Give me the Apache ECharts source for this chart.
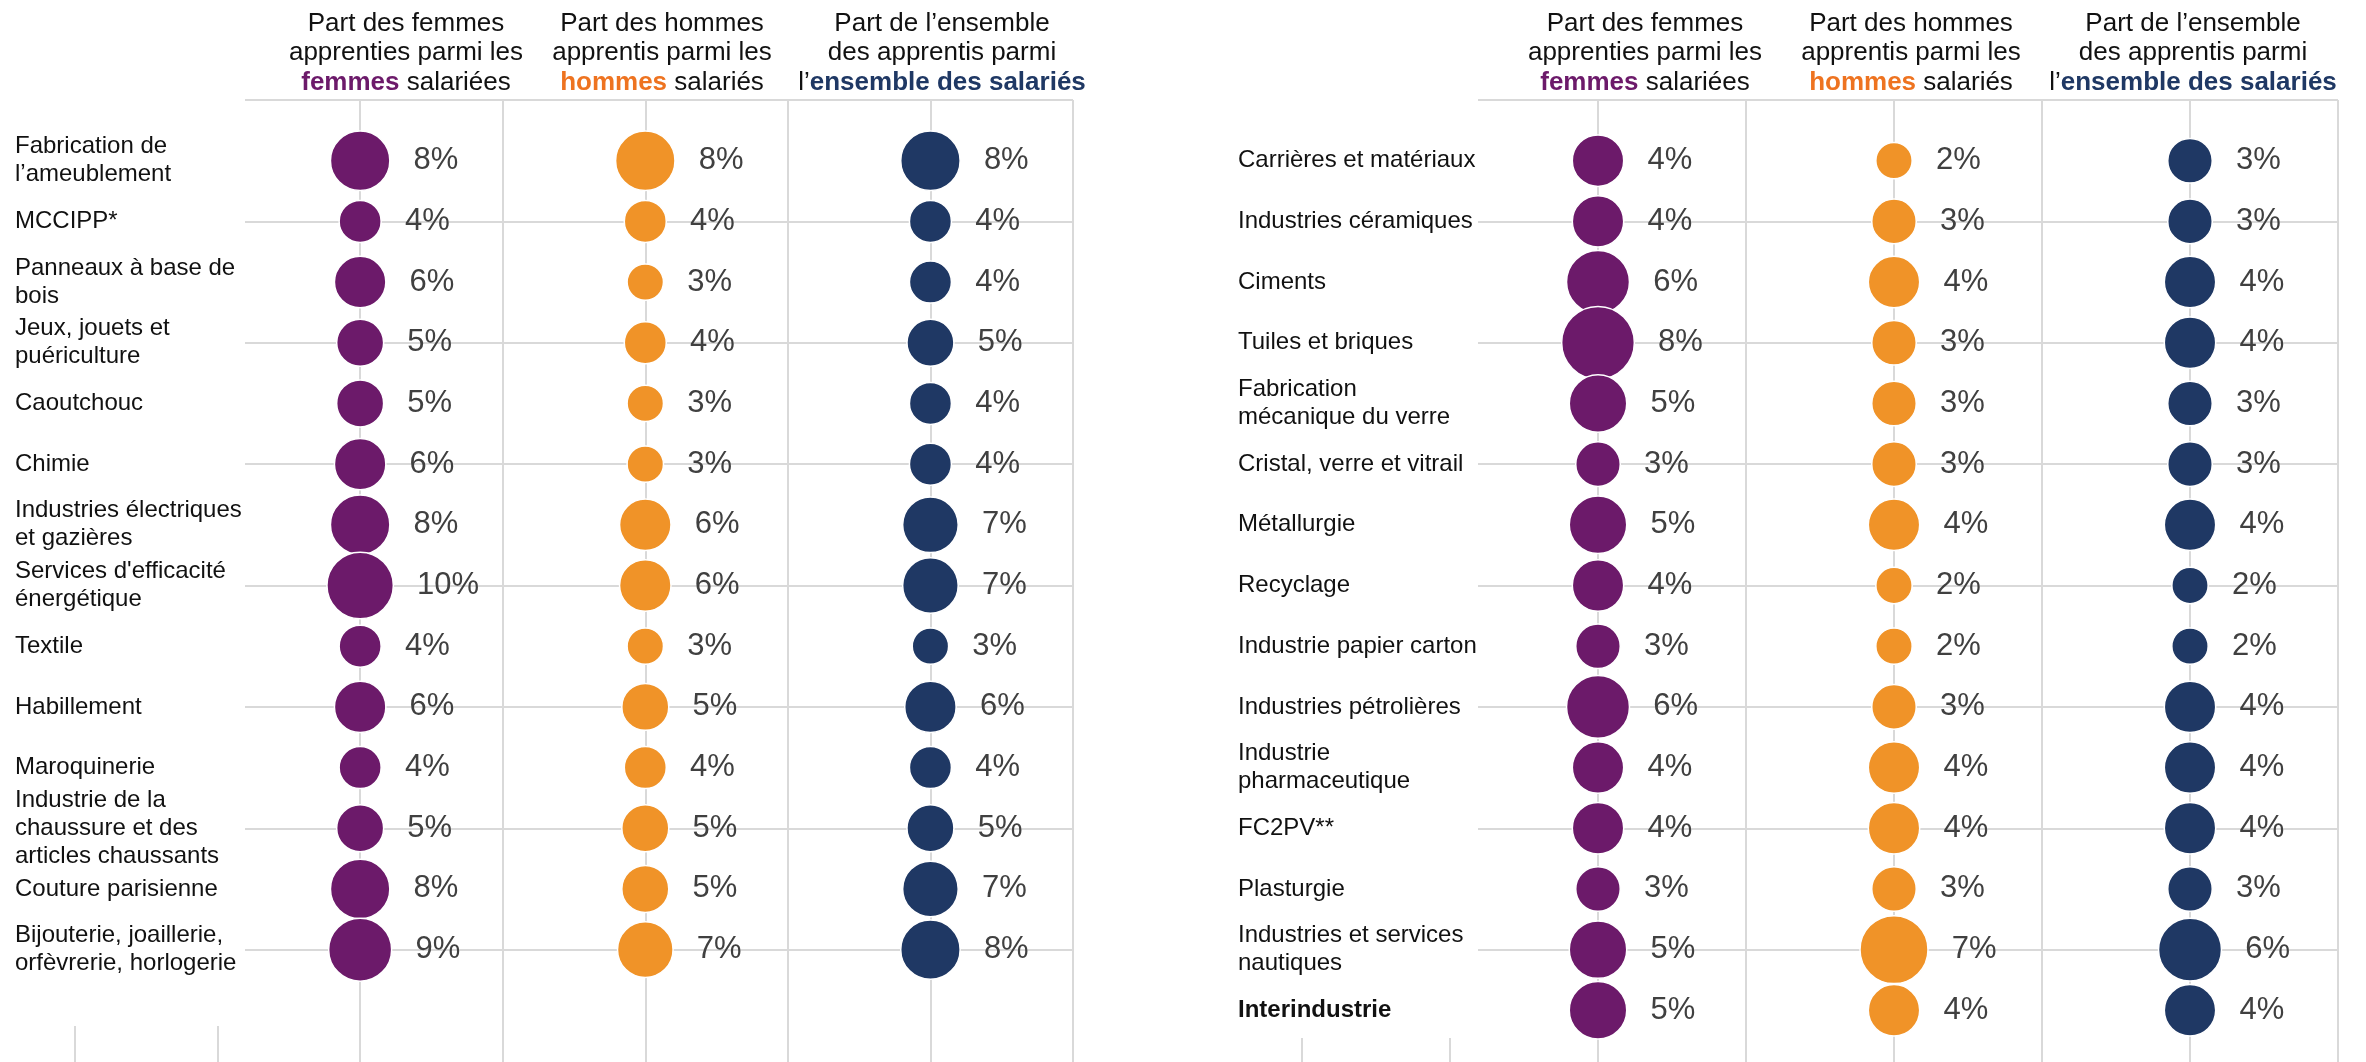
<!DOCTYPE html>
<html>
<head>
<meta charset="utf-8">
<script src="https://cdn.jsdelivr.net/npm/echarts@6/dist/echarts.min.js"></script>
<style>
html,body{margin:0;padding:0;background:#fff;}
#chart{width:2366px;height:1062px;}
</style>
</head>
<body>
<div id="chart"></div>
<script>
// ---------- data ----------
const leftCategories = [
  "Fabrication de\nl’ameublement",
  "MCCIPP*",
  "Panneaux à base de\nbois",
  "Jeux, jouets et\npuériculture",
  "Caoutchouc",
  "Chimie",
  "Industries électriques\net gazières",
  "Services d'efficacité\nénergétique",
  "Textile",
  "Habillement",
  "Maroquinerie",
  "Industrie de la\nchaussure et des\narticles chaussants",
  "Couture parisienne",
  "Bijouterie, joaillerie,\norfèvrerie, horlogerie"
];
const leftFemmes   = [8, 4, 6, 5, 5, 6, 8, 10, 4, 6, 4, 5, 8, 9];
const leftHommes   = [8, 4, 3, 4, 3, 3, 6, 6, 3, 5, 4, 5, 5, 7];
const leftEnsemble = [8, 4, 4, 5, 4, 4, 7, 7, 3, 6, 4, 5, 7, 8];

const rightCategories = [
  "Carrières et matériaux",
  "Industries céramiques",
  "Ciments",
  "Tuiles et briques",
  "Fabrication\nmécanique du verre",
  "Cristal, verre et vitrail",
  "Métallurgie",
  "Recyclage",
  "Industrie papier carton",
  "Industries pétrolières",
  "Industrie\npharmaceutique",
  "FC2PV**",
  "Plasturgie",
  "Industries et services\nnautiques",
  "Interindustrie"
];
const rightFemmes   = [4, 4, 6, 8, 5, 3, 5, 4, 3, 6, 4, 4, 3, 5, 5];
const rightHommes   = [2, 3, 4, 3, 3, 3, 4, 2, 2, 3, 4, 4, 3, 7, 4];
const rightEnsemble = [3, 3, 4, 4, 3, 3, 4, 2, 2, 4, 4, 4, 3, 6, 4];

const headerFemmes   = ["Part des femmes", "apprenties parmi les", "femmes", " salariées"];
const headerHommes   = ["Part des hommes", "apprentis parmi les", "hommes", " salariés"];
const headerEnsemble = ["Part de l’ensemble", "des apprentis parmi", "l’", "ensemble des salariés"];

// ---------- style ----------
const PURPLE = '#6C1A6A', ORANGE = '#F09328', NAVY = '#1F3864';
const HEAD_ORANGE = '#EE7320';
const FONT = '"Liberation Sans", Arial, sans-serif';
const GRID_COLOR = '#d9d9d9';

const chart = echarts.init(document.getElementById('chart'), null, {renderer: 'canvas'});

function xAxis(gridIndex) {
  return {
    type: 'value', gridIndex, min: 0, max: 7, interval: 1,
    axisLine: {show: false}, axisTick: {show: false}, axisLabel: {show: false},
    splitLine: {show: true, lineStyle: {color: GRID_COLOR, width: 2}}
  };
}
function yGridAxis(gridIndex) {
  return {
    type: 'value', gridIndex, position: 'left', inverse: true, min: -1, max: 15, interval: 2,
    axisLine: {show: false}, axisTick: {show: false}, axisLabel: {show: false},
    splitLine: {show: true, lineStyle: {color: GRID_COLOR, width: 2}}
  };
}
function yLabelAxis(gridIndex, cats, margin) {
  return {
    type: 'value', gridIndex, position: 'left', offset: 0, inverse: true, min: -1, max: 15, interval: 1, z: 5,
    axisLine: {show: false}, axisTick: {show: false}, splitLine: {show: false},
    axisLabel: {
      show: true, interval: 0, margin, align: 'left', verticalAlign: 'middle',
      color: '#111', fontFamily: FONT, fontSize: 24, lineHeight: 28,
      showMinLabel: true, showMaxLabel: true, hideOverlap: false,
      formatter: function (v) {
        const c = cats[v];
        if (c === undefined) return '';
        if (c === 'Interindustrie') return '{b|' + c + '}';
        return c;
      },
      rich: {b: {fontWeight: 'bold', fontFamily: FONT, fontSize: 24, color: '#111', lineHeight: 28}}
    }
  };
}

function bubbles(name, vals, col, color, xi, yi, k) {
  return {
    name, type: 'scatter', xAxisIndex: xi, yAxisIndex: yi, z: 2,
    data: vals.map((v, i) => [col, i, v]),
    symbolSize: d => k * Math.sqrt(d[2]),
    itemStyle: {color, borderColor: '#ffffff', borderWidth: 1.5, opacity: 1},
    label: {
      show: true, position: 'right', distance: 23,
      formatter: p => p.value[2] + '%',
      color: '#404040', fontFamily: FONT, fontSize: 31
    },
    emphasis: {disabled: true},
    silent: true
  };
}

function header(x, parts, color) {
  return {
    type: 'text', x, y: 9, z: 10,
    style: {
      text: parts[0] + '\n' + parts[1] + '\n' +
        (color === NAVY ? parts[2] + '{h|' + parts[3] + '}' : '{h|' + parts[2] + '}' + parts[3]),
      fill: '#111', fontFamily: FONT, fontSize: 26, lineHeight: 29.5,
      textAlign: 'center', textVerticalAlign: 'top',
      rich: {h: {fill: color, fontWeight: 'bold', fontFamily: FONT, fontSize: 26, lineHeight: 29.5}}
    }
  };
}

const KL = 21, KR = 25.7;

const option = {
  backgroundColor: '#ffffff',
  animation: false,
  grid: [
    {left: 75, top: 100, width: 998, height: 971, containLabel: false, outerBoundsMode: 'none'},
    {left: 1302, top: 100, width: 1036, height: 971, containLabel: false, outerBoundsMode: 'none'}
  ],
  xAxis: [xAxis(0), xAxis(1)],
  yAxis: [yGridAxis(0), yLabelAxis(0, leftCategories, 60), yGridAxis(1), yLabelAxis(1, rightCategories, 64)],
  graphic: [
    {type: 'rect', z: 1, shape: {x: 0, y: 0, width: 245, height: 1026}, style: {fill: '#ffffff'}},
    {type: 'rect', z: 1, shape: {x: 1076, y: 0, width: 402, height: 1038}, style: {fill: '#ffffff'}},
    header(406, headerFemmes, PURPLE),
    header(662, headerHommes, HEAD_ORANGE),
    header(942, headerEnsemble, NAVY),
    header(1645, headerFemmes, PURPLE),
    header(1911, headerHommes, HEAD_ORANGE),
    header(2193, headerEnsemble, NAVY)
  ],
  series: [
    bubbles('Femmes G', leftFemmes, 2, PURPLE, 0, 0, KL),
    bubbles('Hommes G', leftHommes, 4, ORANGE, 0, 0, KL),
    bubbles('Ensemble G', leftEnsemble, 6, NAVY, 0, 0, KL),
    bubbles('Femmes D', rightFemmes, 2, PURPLE, 1, 2, KR),
    bubbles('Hommes D', rightHommes, 4, ORANGE, 1, 2, KR),
    bubbles('Ensemble D', rightEnsemble, 6, NAVY, 1, 2, KR)
  ]
};
chart.setOption(option);
</script>
</body>
</html>
